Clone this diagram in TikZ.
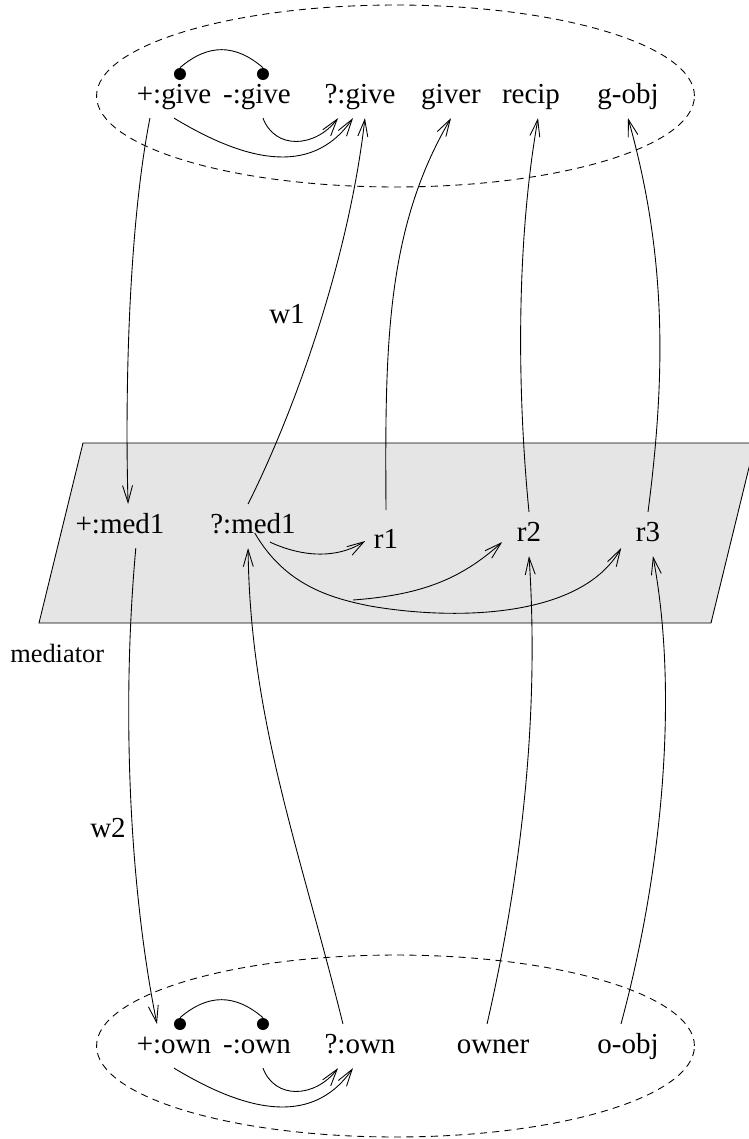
\documentclass[tikz,border=0pt]{standalone}
\usepackage{fontspec}
\setmainfont{Liberation Serif}
\usetikzlibrary{arrows.meta, calc}

\begin{document}
\begin{tikzpicture}[
  x=0.02cm, y=-0.02cm,
  lbl/.style={anchor=base, inner sep=4.8pt, text height=11.5pt, text depth=3.6pt, font=\fontsize{16.5}{19}\selectfont},
  dot/.style={circle, fill, inner sep=0pt, minimum size=0.24cm},
  frame/.style={dash pattern=on 4pt off 3pt, line width=0.5pt},
  link/.style={line width=0.5pt},
  arrow/.style={link, -{Straight Barb[length=3.4mm, width=2mm]}},
  plane/.style={draw, fill=black!10, line width=0.5pt}
]
\useasboundingbox (0,0) rectangle (748,1139);

% Mediator plane
\draw[plane] (83,443) -- (755,443) -- (711,623) -- (39,623) -- cycle;
\node[anchor=base west, inner sep=0pt, font=\fontsize{15}{18}\selectfont] (medname) at (10,662) {mediator};

% Give frame
\draw[frame] (395.5,96) ellipse [x radius=5.98cm, y radius=1.82cm];
\node[lbl] (pg) at (174,103) {+:give};
\node[lbl] (mg) at (257,103) {-:give};
\node[lbl] (qg) at (360,103) {?:give};
\node[lbl] (giver) at (451,103) {giver};
\node[lbl] (recip) at (531,103) {recip};
\node[lbl] (gobj) at (628,103) {g-obj};

\node[dot] (gdot1) at ([xshift=3.4pt]pg.north) {};
\node[dot] (gdot2) at ([xshift=3.4pt]mg.north) {};
\draw[link] (gdot1.north) .. controls ([shift={(28,-24)}]gdot1.north) and ([shift={(-28,-24)}]gdot2.north) .. (gdot2.north);
\draw[arrow] (pg.south) .. controls (240,158) and (310,180) .. ([xshift=-4pt]qg.south);
\draw[arrow] ([xshift=3.4pt]mg.south) .. controls (275,150) and (315,148) .. ([xshift=-12.5pt]qg.south);

% Mediator nodes
\node[lbl] (pm) at (120,533) {+:med1};
\node[lbl] (qm) at (253,533) {?:med1};
\node[lbl] (r1) at (386,548) {r1};
\node[lbl] (r2) at (529,541) {r2};
\node[lbl] (r3) at (648,541) {r3};

% Own frame
\draw[frame] (395.5,1046) ellipse [x radius=5.98cm, y radius=1.82cm];
\node[lbl] (po) at (174,1053) {+:own};
\node[lbl] (mo) at (257,1053) {-:own};
\node[lbl] (qo) at (360,1053) {?:own};
\node[lbl] (owner) at (493,1053) {owner};
\node[lbl] (oobj) at (628,1053) {o-obj};

\node[dot] (odot1) at ([xshift=3.4pt]po.north) {};
\node[dot] (odot2) at ([xshift=3.4pt]mo.north) {};
\draw[link] (odot1.north) .. controls ([shift={(28,-24)}]odot1.north) and ([shift={(-28,-24)}]odot2.north) .. (odot2.north);
\draw[arrow] (po.south) .. controls (240,1108) and (310,1130) .. ([xshift=-4pt]qo.south);
\draw[arrow] ([xshift=3.4pt]mo.south) .. controls (275,1100) and (315,1098) .. ([xshift=-12.5pt]qo.south);

% Give to mediator
\draw[arrow] ([xshift=-13.7pt]pg.south) .. controls (128,230) and (125,400) .. ([xshift=4.6pt]pm.north);
\draw[arrow] ([xshift=-2.8pt]qm.north) .. controls (300,400) and (350,250) .. ([xshift=2.8pt]qg.south);
\draw[arrow] ([yshift=5pt]r1.north) .. controls (385,350) and (385,230) .. (giver.south);
\draw[arrow] (r2.north) .. controls (518,400) and (515,250) .. ([xshift=4pt]recip.south);
\draw[arrow] (r3.north) .. controls (665,380) and (668,260) .. (gobj.south);
\node[lbl] (w1) at (287,323) {w1};

% Inside the plane
\coordinate (fork) at (353,600);
\draw[arrow] ([shift={(17,-6)}]qm.south) .. controls (300,556) and (335,560) .. (r1.west);
\draw[arrow] (fork) .. controls (420,595) and (460,580) .. ([shift={(-6,8)}]r2.west);
\draw[arrow] ([xshift=1pt]qm.base) .. controls (285,585) and (330,598) .. (370,606)
  .. controls (450,620) and (580,620) .. ([shift={(-6,14)}]r3.west);

% Own to mediator
\draw[arrow] ([xshift=9pt]pm.south) .. controls (122,700) and (128,880) .. ([xshift=-9.7pt]po.north);
\draw[arrow] ([xshift=-9.7pt]qo.north) .. controls (300,850) and (250,720) .. ([xshift=-2.8pt]qm.south);
\draw[arrow] ([xshift=-3.4pt]owner.north) .. controls (520,880) and (540,720) .. (r2.south);
\draw[arrow] ([xshift=-4pt]oobj.north) .. controls (660,880) and (680,700) .. ([xshift=2.8pt]r3.south);
\node[lbl] (w2) at (108,837) {w2};

\end{tikzpicture}
\end{document}
